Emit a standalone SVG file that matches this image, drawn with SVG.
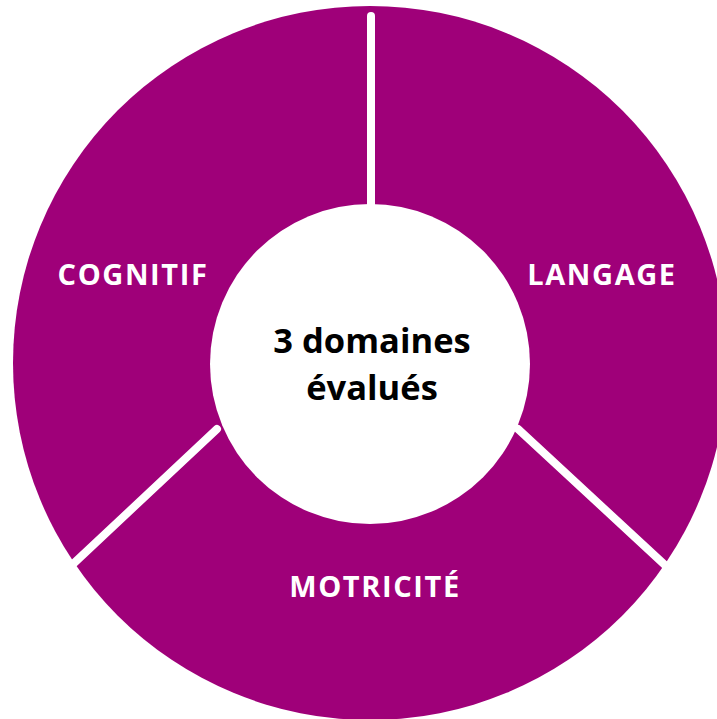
<svg xmlns="http://www.w3.org/2000/svg" width="717" height="719" viewBox="0 0 717 719">
  <style>
    .ring { fill: #9F0079; }
    .hole { fill: #FFFFFF; }
    .sep { stroke: #FFFFFF; stroke-width: 8; stroke-linecap: round; fill: none; }
    .lbl { font-family: "Open Sans", "Noto Sans", "Liberation Sans", sans-serif; font-weight: 700; font-size: 29px; letter-spacing: 1.6px; fill: #FFFFFF; text-anchor: middle; }
    .center { font-family: "Open Sans", "Noto Sans", "Liberation Sans", sans-serif; font-weight: 700; font-size: 34.5px; fill: #000000; text-anchor: middle; }
  </style>
  <rect width="717" height="719" fill="#FFFFFF"/>
  <g id="ring">
    <circle class="ring" cx="370" cy="363" r="357"/>
  </g>
  <g id="connectors">
    <line class="sep" x1="371" y1="16" x2="371" y2="210"/>
    <line class="sep" x1="217" y1="429" x2="72" y2="565"/>
    <line class="sep" x1="518" y1="429" x2="666" y2="566"/>
  </g>
  <g id="node-cognitif">
    <text class="lbl" x="133" y="285">COGNITIF</text>
  </g>
  <g id="node-langage">
    <text class="lbl" x="602" y="285">LANGAGE</text>
  </g>
  <g id="node-motricite">
    <text class="lbl" x="375" y="597">MOTRICITÉ</text>
  </g>
  <g id="node-center">
    <circle class="hole" cx="370" cy="364" r="160"/>
    <text class="center" x="372" y="353">3 domaines</text>
    <text class="center" x="372" y="400">évalués</text>
  </g>
</svg>
